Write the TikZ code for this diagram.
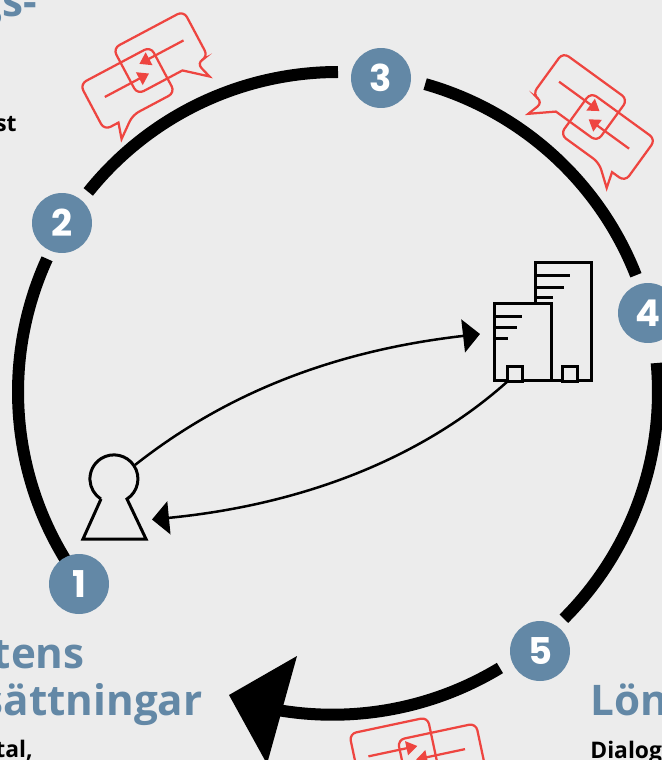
\documentclass[tikz,border=0pt]{standalone}
\usepackage{xcolor}
\usepackage{fontspec}
\usetikzlibrary{arrows.meta, positioning, calc}
\setmainfont{Open Sans}
\newfontfamily\numfont{Poppins}
\definecolor{mybg}{RGB}{236,236,236}
\definecolor{myblue}{RGB}{99,136,166}
\definecolor{myred}{RGB}{238,69,64}
\tikzset{
  numdot/.style={circle, fill=myblue, text=white, minimum size=1.2cm, inner sep=0pt,
    font=\numfont\bfseries\fontsize{21}{21}\selectfont},
  ring/.style={line width=0.24cm, color=black},
  flow/.style={-{Triangle[length=0.34cm, width=0.66cm]}, line width=0.05cm, color=black},
  icon/.style={line width=0.06cm, color=black},
  heading/.style={font=\bfseries\fontsize{24}{24}\selectfont, text=myblue, inner sep=0pt},
  bodytext/.style={font=\bfseries\fontsize{13}{13}\selectfont, text=black, inner sep=0pt},
  bldg/.style={rectangle, draw=black, fill=mybg, line width=0.06cm, inner sep=0pt},
  talk/.style={line width=0.045cm, color=myred},
  talkarrow/.style={talk, -{Triangle[length=0.22cm, width=0.28cm]}},
  bubbles/.pic={
    \draw[talk, rounded corners=0.14cm] (-63,18) -- (17,18) -- (17,-34) -- (-31,-34)
      [sharp corners] -- (-52,-50) -- (-47,-34) [rounded corners=0.14cm] -- (-63,-34) -- cycle;
    \draw[talk, rounded corners=0.14cm] (-17,34) -- (63,34) -- (63,-18) -- (50,-18)
      [sharp corners] -- (55,-36) -- (34,-18) [rounded corners=0.14cm] -- (-17,-18) -- cycle;
    \draw[talkarrow] (-47,-5) -- (3,-5);
    \draw[talkarrow] (49,8) -- (-1,8);
  }
}

\begin{document}
\begin{tikzpicture}[x=0.02cm, y=0.02cm]
  \useasboundingbox (0,0) rectangle (662,-760);
  \clip (0,0) rectangle (662,-760);
  \fill[mybg] (0,0) rectangle (662,-760);

  % Ring segments
  \coordinate (ringc) at (338,-392);
  \coordinate (seg1) at ($(ringc)+(213:320)$);
  \coordinate (seg2) at ($(ringc)+(141.3:320)$);
  \coordinate (seg3) at ($(ringc)+(74.2:320)$);
  \coordinate (seg4) at ($(ringc)+(5.2:320)$);
  \coordinate (seg5) at ($(ringc)+(-59.6:320)$);
  \coordinate (ringend) at (272,-709);
  \draw[ring] (seg1) arc[start angle=213, end angle=155.4, radius=320];
  \draw[ring] (seg2) arc[start angle=141.3, end angle=90, radius=320];
  \draw[ring] (seg3) arc[start angle=74.2, end angle=21.4, radius=320];
  \draw[ring] (seg4) arc[start angle=5.2, end angle=-45.1, radius=320];
  \draw[ring] (seg5) to[bend left=21, looseness=0.88] (ringend);

  % Numbered stops on the ring
  \node[numdot] (n1) at (79,-584) {1};
  \node[numdot] (n2) at (62,-223) {2};
  \node[numdot] (n3) at (381,-78) {3};
  \node[numdot] (n4) at (648,-313) {4};
  \node[numdot] (n5) at (540,-651) {5};

  % Big arrowhead
  \fill[black] (229,-695) -- (297,-656) -- (267,-764) -- cycle;

  % Keyhole
  \draw[icon] (101,-499) -- (83,-539) -- (146,-539) -- (127,-499)
    arc[start angle=-57, end angle=237, radius=24];
  \coordinate (lockout) at (135,-465);
  \coordinate (lockin) at (152,-519.5);

  % Office buildings
  \node[bldg, minimum width=1.12cm, minimum height=2.38cm] (tower) at (563,-321.5) {};
  \foreach \yy/\xx in {275/570, 287/564, 297/553}
    \draw[icon] (535,-\yy) -- (\xx,-\yy);
  \node[bldg, minimum width=1.14cm, minimum height=1.56cm] (house) at (522.5,-342) {};
  \foreach \yy/\xx in {316/522, 327/517, 338/508}
    \draw[icon] (494,-\yy) -- (\xx,-\yy);
  \node[bldg, minimum size=0.3cm] (door1) at (514.5,-373.5) {};
  \node[bldg, minimum size=0.3cm] (door2) at (570,-373.5) {};
  \coordinate (housein) at (480,-334);
  \coordinate (houseout) at (508,-381);

  % Exchange between keyhole and office
  \draw[flow] (lockout) .. controls (230,-390) and (340,-350) .. (housein);
  \draw[flow] (houseout) .. controls (420,-460) and (300,-505) .. (lockin);

  % Speech bubbles
  \pic (talk1) [rotate=28] at (144,-70.5) {bubbles};
  \pic (talk2) [rotate=-36, xscale=-1] at (594,-117) {bubbles};
  \pic (talk3) [rotate=12, xscale=-1] at (418,-754) {bubbles};

  % Cut off texts
  \node[heading, anchor=base east] (head1) at (37,-17) {gs-};
  \node[heading, anchor=base east] (head2) at (85,-668) {tens};
  \node[heading, anchor=base east] (head3) at (203,-715) {sättningar};
  \node[heading, anchor=base west] (head4) at (590,-715) {Lön};
  \node[bodytext, anchor=base east] (body1) at (17,-132) {st};
  \node[bodytext, anchor=base east] (body2) at (2,-187) {l};
  \node[bodytext, anchor=base east] (body3) at (33,-757) {tal,};
  \node[bodytext, anchor=base west] (body4) at (590,-758) {Dialog};
\end{tikzpicture}
\end{document}
